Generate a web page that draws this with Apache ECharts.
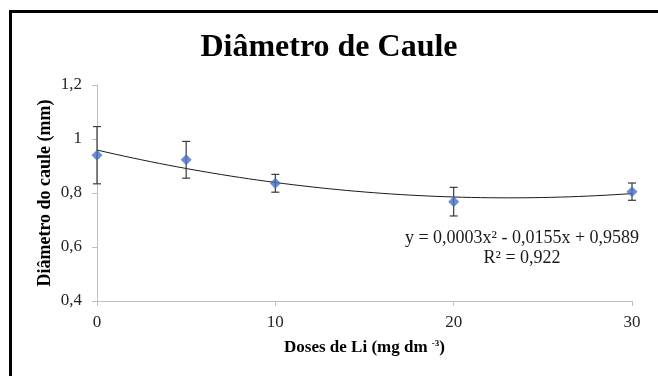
<!DOCTYPE html>
<html>
<head>
<meta charset="utf-8">
<script src="https://cdn.jsdelivr.net/npm/echarts@6/dist/echarts.min.js"></script>
<style>
  html, body { margin: 0; padding: 0; background: #fff; overflow: hidden; }
  #frame {
    position: absolute; left: 9px; top: 10px; width: 700px; height: 420px;
    border: 3px solid #000; box-sizing: border-box;
  }
  #chart { position: absolute; left: 0; top: 0; width: 658px; height: 376px; }
</style>
</head>
<body>
<div id="frame"></div>
<div id="chart"></div>
<script>
// doses de Li (mg dm-3)
var doses = [0, 5, 10, 20, 30];
// diâmetro do caule (mm) - médias
var diametro = [0.940, 0.923, 0.836, 0.768, 0.805];
// desvio (barras de erro)
var desvio = [0.106, 0.068, 0.033, 0.053, 0.032];
var yTicks = [0.4, 0.6, 0.8, 1.0, 1.2];
var xTicks = [0, 10, 20, 30];

var serif = '"Liberation Serif", "Times New Roman", serif';

// ajuste polinomial de 2a ordem (mínimos quadrados) sobre os pontos
function polyFit2(xs, ys) {
  var n = xs.length, s = [0, 0, 0, 0, 0], t = [0, 0, 0];
  for (var i = 0; i < n; i++) {
    var p = 1;
    for (var k = 0; k < 5; k++) { s[k] += p; if (k < 3) t[k] += p * ys[i]; p *= xs[i]; }
  }
  var m = [[s[0], s[1], s[2], t[0]], [s[1], s[2], s[3], t[1]], [s[2], s[3], s[4], t[2]]];
  for (var c = 0; c < 3; c++) {
    for (var r = c + 1; r < 3; r++) {
      var f = m[r][c] / m[c][c];
      for (var j = c; j < 4; j++) m[r][j] -= f * m[c][j];
    }
  }
  var x = [0, 0, 0];
  for (var r2 = 2; r2 >= 0; r2--) {
    var sum = m[r2][3];
    for (var j2 = r2 + 1; j2 < 3; j2++) sum -= m[r2][j2] * x[j2];
    x[r2] = sum / m[r2][r2];
  }
  return x;
}
var coef = polyFit2(doses, diametro);
var trend = [];
for (var xv = 0; xv <= 30; xv += 0.5) {
  trend.push([xv, coef[0] + coef[1] * xv + coef[2] * xv * xv]);
}

var chart = echarts.init(document.getElementById('chart'));
chart.setOption({
  backgroundColor: 'transparent',
  animation: false,
  title: {
    text: 'Diâmetro de Caule',
    left: 'center',
    top: 27,
    textStyle: { fontFamily: serif, fontWeight: 'bold', fontSize: 32, color: '#000' }
  },
  grid: { left: 97, right: 26, top: 85, bottom: 75 },
  xAxis: {
    type: 'value',
    min: 0, max: 30, interval: 10,
    name: '{b|Doses de Li (mg dm }{s|-3}{b|)}',
    nameLocation: 'middle',
    nameGap: 38,
    nameMoveOverlap: false,
    nameTextStyle: {
      rich: {
        b: { fontFamily: serif, fontWeight: 'bold', fontSize: 17, color: '#000' },
        s: { fontFamily: serif, fontWeight: 'bold', fontSize: 9, color: '#000', verticalAlign: 'top', padding: [0, 0, 7, 0] }
      }
    },
    axisLine: { lineStyle: { color: '#bfbfbf', width: 1 } },
    axisTick: { show: true, length: 5, lineStyle: { color: '#bfbfbf' } },
    axisLabel: { fontFamily: serif, fontSize: 17, color: '#262626', margin: 13 },
    splitLine: { show: false }
  },
  yAxis: {
    type: 'value',
    min: 0.4, max: 1.2, interval: 0.2,
    name: 'Diâmetro do caule (mm)',
    nameLocation: 'middle',
    nameGap: 43,
    nameMoveOverlap: false,
    nameTextStyle: { fontFamily: serif, fontWeight: 'bold', fontSize: 18, color: '#000' },
    axisLine: { show: true, lineStyle: { color: '#bfbfbf', width: 1 } },
    axisTick: { show: true, length: 5, lineStyle: { color: '#bfbfbf' } },
    axisLabel: {
      fontFamily: serif, fontSize: 17, color: '#262626', margin: 15,
      formatter: function (v) { return String(Math.round(v * 10) / 10).replace('.', ','); }
    },
    splitLine: { show: false }
  },
  series: [
    {
      type: 'line',
      data: trend,
      showSymbol: false,
      smooth: false,
      lineStyle: { color: '#1a1a1a', width: 1 },
      z: 2
    },
    {
      type: 'custom',
      data: doses.map(function (d, i) { return [d, diametro[i] - desvio[i], diametro[i] + desvio[i]]; }),
      renderItem: function (params, api) {
        var lo = api.coord([api.value(0), api.value(1)]);
        var hi = api.coord([api.value(0), api.value(2)]);
        var w = 4;
        var st = { stroke: '#3a3a3a', lineWidth: 1.2 };
        return {
          type: 'group',
          children: [
            { type: 'line', shape: { x1: lo[0], y1: lo[1], x2: hi[0], y2: hi[1] }, style: st },
            { type: 'line', shape: { x1: lo[0] - w, y1: lo[1], x2: lo[0] + w, y2: lo[1] }, style: st },
            { type: 'line', shape: { x1: hi[0] - w, y1: hi[1], x2: hi[0] + w, y2: hi[1] }, style: st }
          ]
        };
      },
      z: 3
    },
    {
      type: 'scatter',
      data: doses.map(function (d, i) { return [d, diametro[i]]; }),
      symbol: 'diamond',
      symbolSize: 11,
      itemStyle: { color: '#4472c4' },
      z: 4
    }
  ],
  graphic: [
    {
      type: 'text', x: 522, y: 228,
      style: {
        text: 'y = 0,0003x² - 0,0155x + 0,9589\nR² = 0,922',
        align: 'center', verticalAlign: 'top', lineHeight: 20,
        fontFamily: serif, fontSize: 18, fill: '#1a1a1a'
      }
    }
  ]
});
</script>
</body>
</html>
